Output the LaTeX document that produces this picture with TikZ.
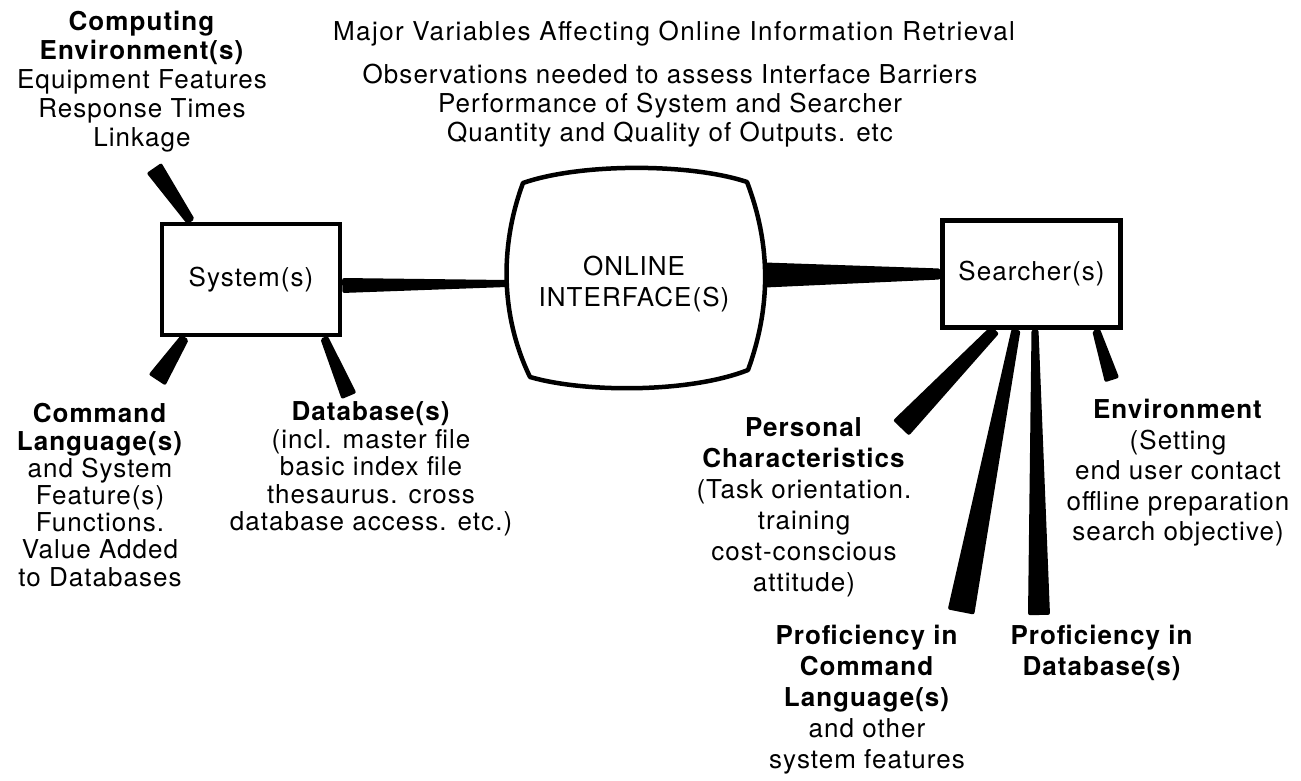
\documentclass[tikz,border=0pt]{standalone}
\usepackage{fontspec}
\setmainfont{TeX Gyre Heros}[LetterSpace=4]
\usetikzlibrary{calc,backgrounds}
\newcommand\taper[4]{%
  \fill[leg] ($(#1)!0.5*#3!90:(#2)$) -- ($(#2)!0.5*#4!-90:(#1)$) -- ($(#2)!0.5*#4!90:(#1)$) -- ($(#1)!0.5*#3!-90:(#2)$) -- cycle;}
\tikzset{
  lbl/.style={align=center, inner sep=0pt, font=\fontsize{26}{29}\selectfont},
  boxnode/.style={draw, line width=4.5pt, fill=white, minimum width=178pt, minimum height=111pt, inner sep=0pt, font=\fontsize{26}{29}\selectfont},
  leg/.style={fill=black, rounded corners=2pt},
  screen/.style={draw, line width=4.5pt, fill=white, line join=round}
}
\begin{document}
\begin{tikzpicture}[x=1pt,y=-1pt]
\useasboundingbox (0,0) rectangle (1301,781);
% boxes
\node[boxnode] (sys) at (251,279.5) {\raisebox{-3pt}{System(s)}};
\node[boxnode, minimum height=107pt] (srch) at (1031.5,274) {\raisebox{-5pt}{Searcher(s)}};
% screen outline
\draw[screen] (523,183) .. controls (580,163) and (690,163) .. (747,182)
  .. controls (771,245) and (771,307) .. (748,370)
  .. controls (690,393) and (585,393) .. (530,377)
  .. controls (500,315) and (500,245) .. cycle;
\node[lbl, font=\fontsize{26}{31}\selectfont] (iface) at (634,284) {ONLINE\\INTERFACE(S)};
\coordinate (ifL) at (507,283.5);
\coordinate (ifR) at (765,275);
% free ends of the legs
\coordinate (ceEnd) at (154,168);
\coordinate (cmdEnd) at (157,380);
\coordinate (dbEnd) at (349,396);
\coordinate (persEnd) at (901,428);
\coordinate (pcEnd) at (961,612);
\coordinate (pdEnd) at (1039,615);
\coordinate (envEnd) at (1112,380);
\begin{scope}[on background layer]
\fill[white] (0,0) rectangle (1301,781);
\taper{$(sys.east)+(0,6)$}{ifL}{15pt}{7pt}
\taper{ifR}{srch.west}{25pt}{11pt}
\taper{$(sys.north)+(-60,0)$}{ceEnd}{9pt}{18pt}
\taper{$(sys.south)+(-66,0)$}{cmdEnd}{9pt}{20pt}
\taper{$(sys.south)+(73,0)$}{dbEnd}{8pt}{16pt}
\taper{$(srch.south)+(-36.5,0)$}{persEnd}{11pt}{22pt}
\taper{$(srch.south)+(-15.5,0)$}{pcEnd}{9pt}{27pt}
\taper{$(srch.south)+(3.5,0)$}{pdEnd}{7pt}{22pt}
\taper{$(srch.south)+(64.5,0)$}{envEnd}{8pt}{15pt}
\end{scope}
% texts
\node[lbl] (comp) at (142,82) {\textbf{Computing}\\\textbf{Environment(s)}\\Equipment Features\\Response Times\\Linkage};
\node[lbl, font=\fontsize{26}{29}\selectfont\addfontfeature{LetterSpace=5.5}] (title) at (674,34) {Major Variables Affecting Online Information Retrieval};
\node[lbl] (obs) at (670,106) {Observations needed to assess Interface Barriers\\Performance of System and Searcher\\Quantity and Quality of Outputs. etc};
\node[lbl, font=\fontsize{26}{27.2}\selectfont] (cmd) at (100,495) {\textbf{Command}\\\textbf{Language(s)}\\and System\\Feature(s)\\Functions.\\Value Added\\to Databases};
\node[lbl, font=\fontsize{26}{27.5}\selectfont] (db) at (371,469) {\textbf{Database(s)}\\(incl. master file\\basic index file\\thesaurus. cross\\database access. etc.)};
\node[lbl, font=\fontsize{26}{31}\selectfont] (pers) at (804,507) {\textbf{Personal}\\\textbf{Characteristics}\\(Task orientation.\\training\\cost-conscious\\attitude)};
\node[lbl, font=\fontsize{26}{31}\selectfont] (pc) at (867,700) {\textbf{Proficiency in}\\\textbf{Command}\\\textbf{Language(s)}\\and other\\system features};
\node[lbl, font=\fontsize{26}{31}\selectfont] (pd) at (1102,653) {\textbf{Proficiency in}\\\textbf{Database(s)}};
\node[lbl, font=\fontsize{26}{30.5}\selectfont] (env) at (1178,473) {\textbf{Environment}\\(Setting\\end user contact\\offline preparation\\search objective)};
\end{tikzpicture}
\end{document}
